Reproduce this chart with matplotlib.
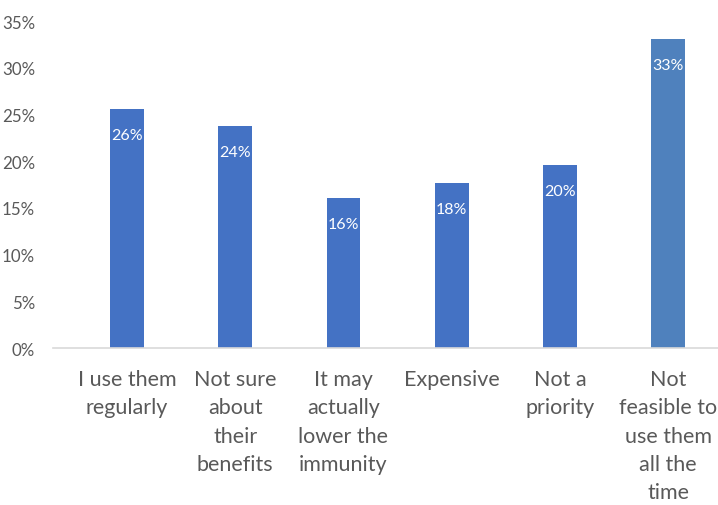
import matplotlib.pyplot as plt
from matplotlib.ticker import FuncFormatter

plt.rcParams['font.family'] = ['Lato', 'DejaVu Sans']

categories = ["I use them\nregularly", "Not sure\nabout\ntheir\nbenefits",
              "It may\nactually\nlower the\nimmunity", "Expensive",
              "Not a\npriority", "Not\nfeasible to\nuse them\nall the\ntime"]
values = [25.6, 23.8, 16.1, 17.7, 19.6, 33.1]
bar_colors = ['#4472C4'] * 5 + ['#4F81BD']
yticks = [0, 5, 10, 15, 20, 25, 30, 35]

fig = plt.figure(figsize=(7.18, 5.06), dpi=100)
ax = fig.add_axes([0.0738, 0.310, 0.9262, 0.6465])

x = list(range(len(values)))
bars = ax.bar(x, values, width=0.31, color=bar_colors, zorder=2)

# data labels inside the top of each bar
for xi, v in zip(x, values):
    ax.text(xi, v - 2.8, f"{round(v):.0f}%", ha='center', va='center',
            color='white', fontsize=11.5)

ax.set_ylim(0, 35)
ax.set_xlim(-0.684, 5.46)
ax.set_yticks(yticks)
ax.yaxis.set_major_formatter(FuncFormatter(lambda v, p: f"{v:.0f}%"))
ax.set_xticks(x)
ax.set_xticklabels(categories, fontsize=15.5, color='#595959', linespacing=1.52, va='top')

for s in ['top', 'right', 'left']:
    ax.spines[s].set_visible(False)
ax.spines['bottom'].set_color('#D9D9D9')
ax.spines['bottom'].set_linewidth(1.2)
ax.tick_params(axis='y', length=0, labelsize=12.2, labelcolor='#595959', pad=13)
ax.tick_params(axis='x', length=0, pad=15)

fig.savefig('out.png', dpi=100)
